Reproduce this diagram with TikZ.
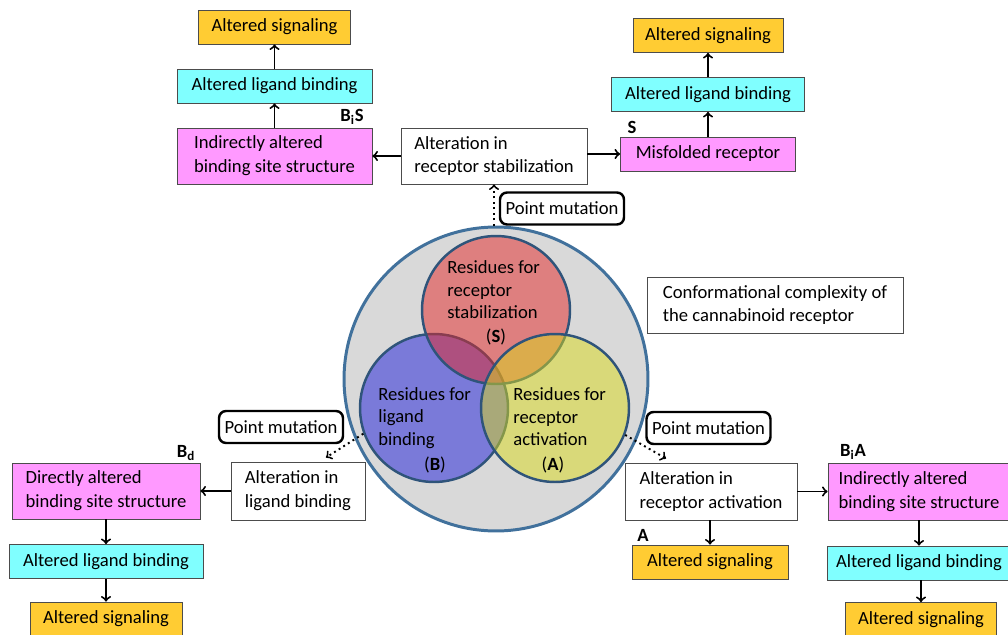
\documentclass[tikz,border=0pt]{standalone}
\usepackage{fontspec}
\setmainfont{Carlito}
\usetikzlibrary{arrows}
\usetikzlibrary{shapes}
\usetikzlibrary{calc}
\usetikzlibrary{positioning}

\definecolor{sigcol}{RGB}{255,204,51}
\definecolor{ligcol}{RGB}{128,255,255}
\definecolor{sitecol}{RGB}{255,153,255}
\definecolor{ringcol}{RGB}{65,113,156}
\definecolor{vennline}{RGB}{47,84,122}
\definecolor{stabcol}{RGB}{227,39,39}
\definecolor{bindcol}{RGB}{29,29,217}
\definecolor{actcol}{RGB}{217,217,27}
\definecolor{bggray}{RGB}{217,217,217}

\begin{document}
\begin{tikzpicture}[x=0.02cm,y=-0.02cm,
  every node/.style={font=\fontsize{10.6}{13.6}\selectfont},
  box/.style={draw=black!70, line width=0.5pt, inner sep=0pt, minimum height=0.68cm},
  twobox/.style={box, minimum height=1.12cm, align=left},
  sig/.style={box, fill=sigcol},
  lig/.style={box, fill=ligcol},
  site/.style={twobox, fill=sitecol},
  alt/.style={twobox, fill=white},
  pm/.style={draw, line width=1.4pt, rounded corners=4pt, fill=white,
             minimum height=0.64cm, minimum width=2.48cm, inner sep=0pt},
  venn/.style={circle, draw=vennline, line width=1.4pt, fill opacity=0.5,
               minimum size=2.96cm, inner sep=0pt},
  venntxt/.style={align=left, anchor=west, inner sep=0pt,
                  font=\fontsize{10.6}{12.8}\selectfont},
  tag/.style={font=\fontsize{10.6}{13.6}\selectfont\bfseries, inner sep=0pt},
  pil/.style={->, line width=1.1pt},
  dpil/.style={->, line width=1.1pt, dotted},
]
\useasboundingbox (0,0) rectangle (1008,635);

% receptor and residue sets
\node[circle, draw=ringcol, line width=1.7pt, fill=bggray, minimum size=6.08cm, inner sep=0pt] (ring) at (496,379) {};
\node[venn, fill=bindcol] (bind) at (434,408) {};
\node[venn, fill=stabcol] (stab) at (496,310) {};
\node[venn, fill=actcol] (act) at (555,408) {};
\node[venntxt] (stabtxt) at (447,290) {Residues for\\receptor\\stabilization};
\node[inner sep=0pt] (stablbl) at (496,337) {(\textbf{S})};
\node[venntxt] (bindtxt) at (378,418) {Residues for\\ligand\\binding};
\node[inner sep=0pt] (bindlbl) at (435,465) {(\textbf{B})};
\node[venntxt] (acttxt) at (513,417) {Residues for\\receptor\\activation};
\node[inner sep=0pt] (actlbl) at (553,465) {(\textbf{A})};
\node[alt, minimum width=5.12cm] (complex) at (775,305) {Conformational complexity of\\the cannabinoid receptor};

% stabilization branch
\node[pm] (pmtop) at (562,208.5) {Point mutation};
\node[alt, minimum width=3.72cm] (stabalt) at (494,156) {Alteration in\\receptor stabilization};
\node[site, minimum width=3.9cm] (tlsite) at (274.5,156) {Indirectly altered\\binding site structure};
\node[lig, minimum width=3.9cm] (tllig) at (274.5,86) {Altered ligand binding};
\node[sig, minimum width=3.04cm] (tlsig) at (274.5,27) {Altered signaling};
\node[box, fill=sitecol, minimum width=3.5cm] (misf) at (708,154) {Misfolded receptor};
\node[lig, minimum width=3.86cm] (trlig) at (708,94.5) {Altered ligand binding};
\node[sig, minimum width=3.0cm] (trsig) at (708,35.5) {Altered signaling};
\node[tag] (tagBiS) at (352,117) {B\textsubscript{i}S};
\node[tag] (tagS) at (632,127) {S};

% binding branch
\node[pm] (pmleft) at (281,427) {Point mutation};
\node[alt, minimum width=2.68cm, minimum height=1.16cm] (bindalt) at (298,491) {Alteration in\\ligand binding};
\node[site, minimum width=3.76cm] (blsite) at (106,491) {Directly altered\\binding site structure};
\node[lig, minimum width=3.88cm] (bllig) at (106,561.5) {Altered ligand binding};
\node[sig, minimum width=3.04cm] (blsig) at (106,619) {Altered signaling};
\node[tag] (tagBd) at (186,453) {B\textsubscript{d}};

% activation branch
\node[pm] (pmright) at (708.5,428) {Point mutation};
\node[alt, minimum width=3.44cm, minimum height=1.14cm] (actalt) at (711,491.5) {Alteration in\\receptor activation};
\node[sig, minimum width=3.12cm] (brsigA) at (710,562) {Altered signaling};
\node[site, minimum width=3.64cm, minimum height=1.14cm] (brsite) at (919,491.5) {Indirectly altered\\binding site structure};
\node[lig, minimum width=3.66cm] (brlig) at (919,563) {Altered ligand binding};
\node[sig, minimum width=3.02cm] (brsig) at (921,619.5) {Altered signaling};
\node[tag] (tagA) at (643,535) {A};
\node[tag] (tagBiA) at (853,452) {B\textsubscript{i}A};

% connectors
\draw[dpil] (stabalt.south |- ring.north) -- (stabalt.south);
\draw[pil] (stabalt) -- (tlsite);
\draw[pil] (tlsite) -- (tllig);
\draw[pil] (tllig) -- (tlsig);
\draw[pil] (stabalt.east |- misf.west) -- (misf.west);
\draw[pil] (misf) -- (trlig);
\draw[pil] (trlig) -- (trsig);

\draw[dpil] (bind.200) -- ($(bindalt.north)+(28,-4)$);
\draw[pil] (bindalt) -- (blsite);
\draw[pil] (blsite) -- (bllig);
\draw[pil] (bllig) -- (blsig);

\draw[dpil] (act.339) -- ($(actalt.north)+(-45,-4)$);
\draw[pil] (actalt) -- (brsite);
\draw[pil] (actalt.south -| brsigA) -- (brsigA.north);
\draw[pil] (brsite) -- (brlig);
\draw[pil] (brlig.south -| brsig) -- (brsig.north);
\end{tikzpicture}
\end{document}
